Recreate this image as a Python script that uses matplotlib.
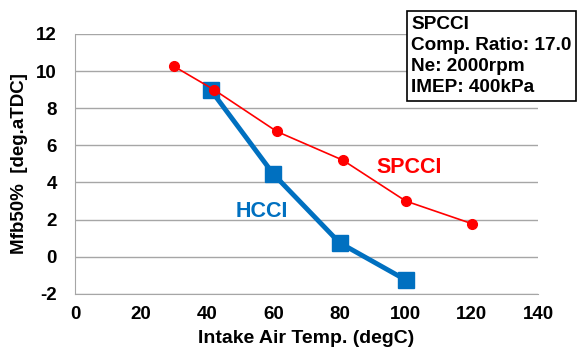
import matplotlib.pyplot as plt

# Data
spcci_temp = [30, 42, 61, 81, 100, 120]
spcci_mfb = [10.25, 9.0, 6.75, 5.2, 3.0, 1.78]
hcci_temp = [41, 60, 80, 100]
hcci_mfb = [9.0, 4.45, 0.75, -1.25]

plt.rcParams['font.family'] = ['Liberation Sans', 'DejaVu Sans']
plt.rcParams['font.weight'] = 'bold'
plt.rcParams['axes.unicode_minus'] = False

fig = plt.figure(figsize=(5.81, 3.54), dpi=100)
ax = fig.add_axes([0.129, 0.17, 0.797, 0.734])

ax.plot(spcci_temp, spcci_mfb, color='#ff0000', linewidth=1.2, marker='o',
        markersize=7, zorder=4)
ax.plot(hcci_temp, hcci_mfb, color='#0070c0', linewidth=3.5, marker='s',
        markersize=11, zorder=3)

ax.set_xlim(0, 140)
ax.set_ylim(-2, 12)
ax.set_xticks(range(0, 141, 20))
ax.set_yticks(range(-2, 13, 2))
ax.grid(axis='y', color='#a6a6a6', linewidth=1.0)
ax.set_axisbelow(True)
for s in ['top', 'right']:
    ax.spines[s].set_visible(False)
for s in ['left', 'bottom']:
    ax.spines[s].set_color('#a6a6a6')
ax.tick_params(axis='x', length=0, pad=9, labelsize=13.5)
ax.tick_params(axis='y', length=0, pad=13, labelsize=13.5)

ax.set_xlabel('Intake Air Temp. (degC)', fontsize=14, fontweight='bold', labelpad=5)
ax.set_ylabel('Mfb50%  [deg.aTDC]', fontsize=13.5, fontweight='bold', labelpad=6)

ax.text(0.404, 0.315, 'HCCI', transform=ax.transAxes, color='#0070c0',
        fontsize=15.5, fontweight='bold', ha='center', va='center')
ax.text(0.721, 0.485, 'SPCCI', transform=ax.transAxes, color='#ff0000',
        fontsize=15.5, fontweight='bold', ha='center', va='center')

fig.text(0.708, 0.955, 'SPCCI\nComp. Ratio: 17.0\nNe: 2000rpm\nIMEP: 400kPa',
         fontsize=13.7, fontweight='bold', ha='left', va='top', linespacing=1.32,
         bbox=dict(boxstyle='square,pad=0.25', fc='white', ec='black', lw=1.2))

fig.savefig('out.png', dpi=100)
